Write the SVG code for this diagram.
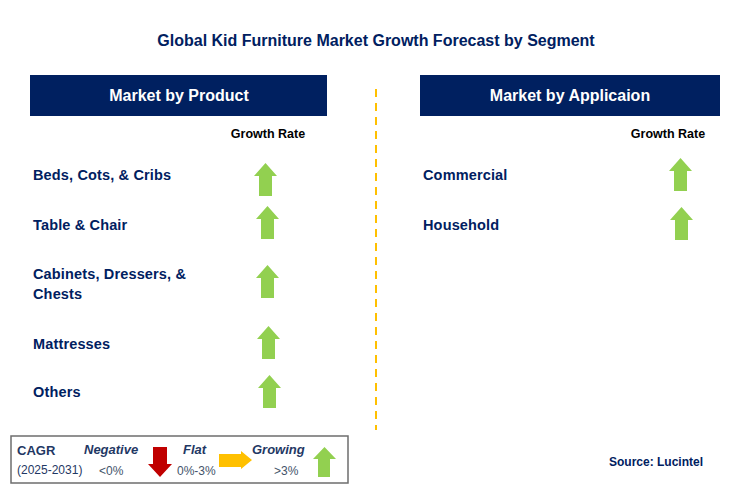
<svg xmlns="http://www.w3.org/2000/svg" width="736" height="502" viewBox="0 0 736 502">
<defs>
<style>
.title{font-family:"Liberation Sans",Arial,sans-serif;font-weight:bold;font-size:16px;fill:#002060}
.hdr{font-family:"Liberation Sans",Arial,sans-serif;font-weight:bold;font-size:16px;fill:#ffffff}
.gr{font-family:"Liberation Sans",Arial,sans-serif;font-weight:bold;font-size:12.5px;fill:#000000}
.item{font-family:"Liberation Sans",Arial,sans-serif;font-weight:bold;font-size:14.5px;fill:#002060;letter-spacing:0.15px}
.lg{font-family:"Liberation Sans",Arial,sans-serif;font-weight:bold;font-size:13px;fill:#1F3864}
.lgi{font-family:"Liberation Sans",Arial,sans-serif;font-weight:bold;font-style:italic;font-size:13px;fill:#1F3864}
.lgs{font-family:"Liberation Sans",Arial,sans-serif;font-size:12px;fill:#1F3864}
.lgp{font-family:"Liberation Sans",Arial,sans-serif;font-size:12px;fill:#44546A}
.src{font-family:"Liberation Sans",Arial,sans-serif;font-weight:bold;font-size:12px;fill:#002060}
.up{fill:#92D050}
</style>
<path id="upArrow" d="M11.5,0 L23,13 L18,13 L18,33 L5,33 L5,13 L0,13 Z"/>
</defs>
<rect width="736" height="502" fill="#ffffff"/>
<text class="title" x="376" y="46" text-anchor="middle">Global Kid Furniture Market Growth Forecast by Segment</text>

<g id="header-product">
<rect x="30" y="75" width="297" height="41" fill="#002060"/>
<text class="hdr" x="179" y="101" text-anchor="middle">Market by Product</text>
</g>
<g id="header-application">
<rect x="420" y="75" width="300" height="41" fill="#002060"/>
<text class="hdr" x="570" y="101" text-anchor="middle">Market by Applicaion</text>
</g>

<g id="connectors">
<line x1="376" y1="89" x2="376" y2="430" stroke="#FFC000" stroke-width="2" stroke-dasharray="8 6"/>
</g>

<text class="gr" x="268" y="138" text-anchor="middle">Growth Rate</text>
<text class="gr" x="668" y="138" text-anchor="middle">Growth Rate</text>

<g id="beds">
<text class="item" x="33" y="180">Beds, Cots, &amp; Cribs</text>
<use href="#upArrow" class="up" x="254" y="163"/>
</g>
<g id="table">
<text class="item" x="33" y="230">Table &amp; Chair</text>
<use href="#upArrow" class="up" x="256" y="206"/>
</g>
<g id="cabinets">
<text class="item" x="33" y="279">Cabinets, Dressers, &amp;</text>
<text class="item" x="33" y="299">Chests</text>
<use href="#upArrow" class="up" x="256" y="265"/>
</g>
<g id="mattresses">
<text class="item" x="33" y="349">Mattresses</text>
<use href="#upArrow" class="up" x="257" y="326"/>
</g>
<g id="others">
<text class="item" x="33" y="397">Others</text>
<use href="#upArrow" class="up" x="258" y="375"/>
</g>

<g id="commercial">
<text class="item" x="423" y="180">Commercial</text>
<use href="#upArrow" class="up" x="669" y="158"/>
</g>
<g id="household">
<text class="item" x="423" y="230">Household</text>
<use href="#upArrow" class="up" x="670" y="207"/>
</g>

<g id="legend">
<rect x="11" y="436" width="337" height="47" fill="#ffffff" stroke="#6d6d6d" stroke-width="1.5"/>
<text class="lg" x="17" y="455">CAGR</text>
<text class="lgs" x="17" y="474">(2025-2031)</text>
<text class="lgi" x="84" y="454">Negative</text>
<text class="lgp" x="99" y="475">&lt;0%</text>
<path d="M153,447 L167,447 L167,464 L172,464 L160,477 L148,464 L153,464 Z" fill="#C00000"/>
<text class="lgi" x="183" y="454">Flat</text>
<text class="lgp" x="177" y="475">0%-3%</text>
<path d="M219,454 L241,454 L241,451 L252,460 L241,469 L241,467 L219,467 Z" fill="#FFC000"/>
<text class="lgi" x="252" y="454">Growing</text>
<text class="lgp" x="274" y="475">&gt;3%</text>
<path d="M324.5,447 L336,459 L330,459 L330,477 L318,477 L318,459 L313,459 Z" fill="#92D050"/>
</g>

<text class="src" x="609" y="466">Source: Lucintel</text>
</svg>
